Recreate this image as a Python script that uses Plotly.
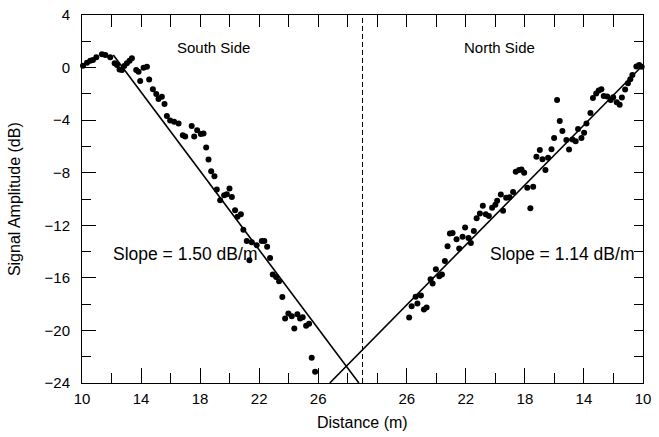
import plotly.graph_objects as go

# ---------------- data ----------------
# South side: distance (m) from the south end, amplitude (dB)
south_distance = [10.07, 10.34, 10.56, 10.74, 10.97, 11.35, 11.58, 11.91, 12.21, 12.37,
                  12.54, 12.71, 12.86, 13.04, 13.22, 13.38, 13.67, 13.83, 13.94, 14.17,
                  14.40, 14.55, 14.80, 15.03, 15.18, 15.41, 15.59, 15.75, 15.97, 16.24,
                  16.54, 16.83, 16.99, 17.43, 17.60, 17.80, 18.05, 18.23, 18.41, 18.57,
                  18.75, 18.97, 19.13, 19.36, 19.63, 19.81, 19.99, 20.15, 20.37, 20.53,
                  20.76, 20.93, 21.16, 21.34, 21.50, 21.83, 22.18, 22.35, 22.54, 22.74,
                  22.92, 23.15, 23.35, 23.57, 23.76, 23.98, 24.21, 24.38, 24.59, 24.77,
                  24.95, 25.18, 25.38, 25.56, 25.79]
south_amplitude = [0.14, 0.37, 0.52, 0.57, 0.78, 1.01, 0.95, 0.78, 0.32, 0.19,
                   -0.14, -0.19, 0.12, 0.32, 0.52, 0.70, -0.19, -0.32, -1.03, -0.01,
                   0.06, -0.90, -1.64, -2.02, -2.40, -2.22, -2.78, -3.69, -4.03, -4.13,
                   -4.25, -5.14, -5.25, -4.45, -5.25, -4.76, -5.06, -5.01, -6.08, -6.99,
                   -7.88, -8.26, -9.28, -10.09, -9.71, -9.63, -9.20, -9.84, -10.85, -11.36,
                   -11.16, -12.34, -13.19, -14.66, -13.29, -13.52, -13.19, -13.19, -13.63, -14.48,
                   -15.75, -15.93, -16.26, -17.45, -19.10, -18.72, -18.92, -19.86, -18.77, -19.10,
                   -19.00, -19.65, -19.50, -22.07, -23.15]

# North side: distance (m) from the north end, amplitude (dB)
north_distance = [25.84, 25.67, 25.40, 25.28, 25.04, 24.84, 24.66, 24.39, 24.25, 24.03,
                  23.80, 23.62, 23.42, 23.24, 23.08, 22.90, 22.63, 22.45, 22.22, 22.05,
                  21.82, 21.66, 21.46, 21.27, 21.05, 20.85, 20.65, 20.44, 20.22, 20.00,
                  19.88, 19.63, 19.48, 19.27, 19.04, 18.80, 18.62, 18.39, 18.23, 18.05,
                  17.84, 17.63, 17.44, 17.22, 16.99, 16.81, 16.61, 16.43, 16.20, 16.02,
                  15.82, 15.64, 15.46, 15.19, 15.01, 14.78, 14.56, 14.40, 14.17, 13.99,
                  13.83, 13.56, 13.39, 13.17, 13.00, 12.82, 12.66, 12.42, 12.19, 12.02,
                  11.78, 11.58, 11.43, 11.21, 11.02, 10.86, 10.72, 10.45, 10.26, 10.09]
north_amplitude = [-19.02, -18.16, -17.44, -17.96, -17.35, -18.41, -18.26, -16.11, -16.43, -15.34,
                   -15.88, -15.75, -14.71, -13.59, -12.63, -12.58, -13.06, -13.77, -12.88, -12.17,
                   -12.96, -13.34, -12.43, -11.46, -11.10, -10.52, -11.16, -11.29, -10.66, -10.43,
                   -10.14, -9.65, -10.90, -9.90, -9.86, -9.46, -7.93, -7.80, -7.75, -8.01,
                   -9.14, -10.70, -9.06, -6.79, -6.28, -6.97, -7.80, -6.87, -6.21, -5.35,
                   -2.47, -4.07, -4.83, -5.52, -6.23, -5.47, -5.60, -4.68, -5.35, -4.96,
                   -4.25, -3.46, -2.32, -1.98, -1.75, -1.64, -2.17, -2.21, -2.47, -2.25,
                   -2.64, -2.82, -2.28, -1.66, -1.20, -0.89, -0.57, 0.08, 0.19, 0.06]

# Fitted lines: start distance (m), amplitude at start (dB), slope (dB/m)
south_fit_start, south_fit_level, south_slope = 12.12, 0.95, 1.50
north_fit_start, north_fit_level, north_slope = 10.06, 0.12, 1.14

# Axis ticks
left_tick_labels = [10, 14, 18, 22, 26]
right_tick_labels = [26, 22, 18, 14, 10]
y_ticks = [-24, -20, -16, -12, -8, -4, 0, 4]

# ------------- folded distance scale -------------
D_MIN = 10.0      # both ends
D_MID = 29.0      # centre line where both sides meet
SPAN = D_MID - D_MIN


def south_u(d):
    return d - D_MIN


def north_u(d):
    return SPAN + (D_MID - d)


Y_MIN, Y_MAX = -24, 4

fig = go.Figure()

# fitted lines
s_end = south_fit_start + (south_fit_level - Y_MIN) / south_slope
fig.add_trace(go.Scatter(
    x=[south_u(south_fit_start), south_u(s_end)],
    y=[south_fit_level, Y_MIN], mode="lines",
    line=dict(color="black", width=1.6), hoverinfo="skip", showlegend=False))
n_end = north_fit_start + (north_fit_level - Y_MIN) / north_slope
fig.add_trace(go.Scatter(
    x=[north_u(north_fit_start), north_u(n_end)],
    y=[north_fit_level, Y_MIN], mode="lines",
    line=dict(color="black", width=1.6), hoverinfo="skip", showlegend=False))

# data points
fig.add_trace(go.Scatter(
    x=[south_u(d) for d in south_distance], y=south_amplitude, mode="markers",
    marker=dict(color="black", size=6), cliponaxis=False, showlegend=False))
fig.add_trace(go.Scatter(
    x=[north_u(d) for d in north_distance], y=north_amplitude, mode="markers",
    marker=dict(color="black", size=6), cliponaxis=False, showlegend=False))

# invisible trace so the top/right tick axes are drawn
fig.add_trace(go.Scatter(x=[0], y=[0], xaxis="x2", yaxis="y2", mode="markers",
                         marker=dict(opacity=0), hoverinfo="skip", showlegend=False))

# centre dashed line
fig.add_shape(type="line", xref="x", yref="y", x0=SPAN, x1=SPAN, y0=Y_MIN, y1=Y_MAX,
              line=dict(color="black", width=1, dash="5px,3px"))

FONT = "Liberation Sans, Arial, Helvetica, sans-serif"

major_x = [south_u(d) for d in left_tick_labels] + [north_u(d) for d in right_tick_labels]
major_x_text = [str(d) for d in left_tick_labels] + [str(d) for d in right_tick_labels]
minor_x = [u for u in range(2, int(2 * SPAN), 2) if u not in major_x]
top_x = list(range(2, int(2 * SPAN), 2))

fig.update_layout(
    width=659, height=437,
    margin=dict(l=82, r=16, t=15, b=54, autoexpand=False),
    paper_bgcolor="white", plot_bgcolor="white",
    font=dict(family=FONT, size=15, color="black"),
    xaxis=dict(
        range=[0, 2 * SPAN], tickmode="array", tickvals=major_x, ticktext=major_x_text,
        ticks="inside", ticklen=15, tickwidth=1, tickcolor="black",
        minor=dict(tickmode="array", tickvals=minor_x, ticks="inside", ticklen=10,
                   tickwidth=1, tickcolor="black"),
        showline=True, linecolor="black", linewidth=1, mirror=True,
        showgrid=False, zeroline=False, automargin=False,
        tickfont=dict(size=15), ticklabelstandoff=2,
    ),
    yaxis=dict(
        range=[Y_MIN, Y_MAX], tickmode="array", tickvals=y_ticks,
        ticktext=[("\u2212" + str(-v)) if v < 0 else str(v) for v in y_ticks],
        ticks="inside", ticklen=14, tickwidth=1, tickcolor="black",
        minor=dict(dtick=2, tick0=0, ticks="inside", ticklen=9, tickwidth=1,
                   tickcolor="black"),
        showline=True, linecolor="black", linewidth=1, mirror=True,
        showgrid=False, zeroline=False, automargin=False,
        tickfont=dict(size=15), ticklabelstandoff=8,
    ),
    xaxis2=dict(
        overlaying="x", side="top", range=[0, 2 * SPAN], tickmode="array",
        tickvals=top_x, ticks="inside", ticklen=12, tickwidth=1, tickcolor="black",
        showticklabels=False, showgrid=False, zeroline=False, showline=False,
        automargin=False,
    ),
    yaxis2=dict(
        overlaying="y", side="right", range=[Y_MIN, Y_MAX], tickmode="array",
        tickvals=list(range(Y_MIN + 2, Y_MAX, 2)), ticks="inside", ticklen=9,
        tickwidth=1, tickcolor="black",
        showticklabels=False, showgrid=False, zeroline=False, showline=False,
        automargin=False,
    ),
    annotations=[
        dict(text="Distance (m)", x=0.5, y=-0.108, xref="paper", yref="paper",
             yanchor="middle", showarrow=False, font=dict(size=16)),
        dict(text="Signal Amplitude (dB)", x=-0.121, y=0.5, xref="paper", yref="paper",
             xanchor="center", yanchor="middle", textangle=-90, showarrow=False,
             font=dict(size=16)),
        dict(text="South Side", x=8.9, y=1.55, xref="x", yref="y", showarrow=False,
             font=dict(size=15)),
        dict(text="North Side", x=28.3, y=1.55, xref="x", yref="y", showarrow=False,
             font=dict(size=15)),
        dict(text="Slope = 1.50 dB/m", x=7.0, y=-14.2, xref="x", yref="y",
             showarrow=False, font=dict(size=17.5)),
        dict(text="Slope = 1.14 dB/m", x=32.5, y=-14.2, xref="x", yref="y",
             showarrow=False, font=dict(size=17.5)),
    ],
)

fig.write_html("out.html")
